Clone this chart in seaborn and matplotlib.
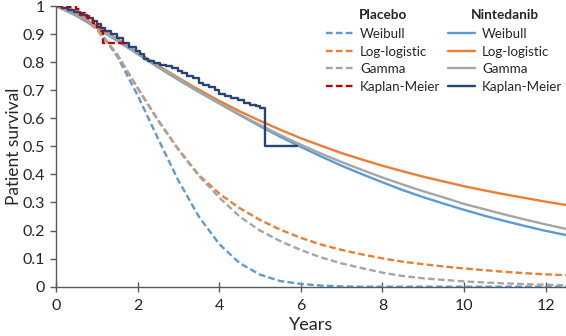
import numpy as np
import pandas as pd
import matplotlib
matplotlib.use("Agg")
import matplotlib.pyplot as plt
import seaborn as sns
from matplotlib.lines import Line2D

# ---------------- data ----------------
years = [0, 0.5, 1, 1.5, 2, 2.5, 3, 3.5, 4, 4.5, 5, 5.5, 6, 6.5, 7, 7.5, 8,
         8.5, 9, 9.5, 10, 10.5, 11, 11.5, 12, 12.5]

placebo_weibull = [1.0, 0.984, 0.925, 0.821, 0.682, 0.528, 0.378, 0.250, 0.152,
                   0.084, 0.043, 0.020, 0.010, 0.004, 0.001, 0.0, 0.0, 0.0, 0.0,
                   0.0, 0.0, 0.0, 0.0, 0.0, 0.0, 0.0]
placebo_loglogistic = [1.0, 0.980, 0.916, 0.826, 0.708, 0.594, 0.490, 0.398, 0.332,
                       0.280, 0.238, 0.203, 0.174, 0.150, 0.131, 0.115, 0.101,
                       0.089, 0.080, 0.072, 0.065, 0.059, 0.053, 0.048, 0.044, 0.041]
placebo_gamma = [1.0, 0.983, 0.920, 0.828, 0.708, 0.592, 0.488, 0.395, 0.318,
                 0.250, 0.200, 0.162, 0.131, 0.104, 0.083, 0.066, 0.050, 0.038,
                 0.030, 0.024, 0.019, 0.015, 0.012, 0.009, 0.007, 0.005]

ninte_weibull = [1.0, 0.965, 0.922, 0.876, 0.829, 0.782, 0.737, 0.694, 0.653,
                 0.612, 0.572, 0.534, 0.498, 0.464, 0.431, 0.401, 0.372, 0.344,
                 0.319, 0.296, 0.274, 0.253, 0.234, 0.216, 0.199, 0.184]
ninte_loglogistic = [1.0, 0.971, 0.929, 0.883, 0.835, 0.789, 0.744, 0.702, 0.662,
                     0.625, 0.591, 0.559, 0.529, 0.502, 0.476, 0.453, 0.431, 0.411,
                     0.392, 0.375, 0.358, 0.343, 0.329, 0.316, 0.303, 0.291]
ninte_gamma = [1.0, 0.967, 0.925, 0.879, 0.832, 0.785, 0.740, 0.696, 0.654,
               0.614, 0.576, 0.540, 0.506, 0.474, 0.444, 0.416, 0.389, 0.364,
               0.340, 0.318, 0.295, 0.276, 0.257, 0.239, 0.222, 0.206]

placebo_km_t = [0, 0.3, 0.5, 0.6, 0.7, 0.8, 0.9, 1.0, 1.08, 1.15, 1.77]
placebo_km_s = [1.0, 0.995, 0.99, 0.975, 0.965, 0.95, 0.94, 0.925, 0.91, 0.867, 0.867]

ninte_km_t = [0, 0.15, 0.3, 0.45, 0.6, 0.75, 0.9, 1.0, 1.1, 1.2, 1.35, 1.5, 1.65,
              1.8, 1.95, 2.05, 2.15, 2.25, 2.4, 2.55, 2.7, 2.85, 3.0, 3.1, 3.2,
              3.35, 3.5, 3.6, 3.75, 3.9, 4.0, 4.15, 4.3, 4.45, 4.6, 4.75, 4.9,
              5.0, 5.13, 5.9]
ninte_km_s = [1.0, 0.993, 0.985, 0.977, 0.968, 0.958, 0.945, 0.935, 0.922, 0.91,
              0.9, 0.885, 0.868, 0.855, 0.84, 0.828, 0.812, 0.805, 0.798, 0.79,
              0.785, 0.778, 0.77, 0.762, 0.752, 0.742, 0.725, 0.718, 0.71, 0.702,
              0.685, 0.678, 0.672, 0.665, 0.655, 0.648, 0.642, 0.635, 0.5, 0.5]

x_ticks = [0, 2, 4, 6, 8, 10, 12]
y_ticks = [0, 0.1, 0.2, 0.3, 0.4, 0.5, 0.6, 0.7, 0.8, 0.9, 1]
y_tick_labels = ["0", "0.1", "0.2", "0.3", "0.4", "0.5", "0.6", "0.7", "0.8", "0.9", "1"]
model_labels = ["Weibull", "Log-logistic", "Gamma", "Kaplan-Meier"]

# ---------------- style ----------------
sns.set_style("ticks")
plt.rcParams["font.family"] = ["Lato", "DejaVu Sans"]

C_BLUE = "#5B9BD5"
C_ORANGE = "#ED7D31"
C_GRAY = "#A5A5A5"
C_RED = "#C00000"
C_NAVY = "#264478"
AXC = "#595959"
TXT = "#262626"
LW = 1.7
DASH = (2.8, 1.4)

fig = plt.figure(figsize=(5.66, 3.36), dpi=100)
ax = fig.add_axes([56 / 566, 1 - 286.7 / 336, 1 - 56 / 566, (286.7 - 6) / 336])

# Nintedanib fitted (solid)
for vals, col in [(ninte_weibull, C_BLUE), (ninte_loglogistic, C_ORANGE), (ninte_gamma, C_GRAY)]:
    sns.lineplot(x=years, y=vals, ax=ax, color=col, lw=LW, sort=False,
                 estimator=None, solid_capstyle="butt")
# Placebo fitted (dashed)
for vals, col in [(placebo_weibull, C_BLUE), (placebo_loglogistic, C_ORANGE), (placebo_gamma, C_GRAY)]:
    sns.lineplot(x=years, y=vals, ax=ax, color=col, lw=LW, sort=False,
                 estimator=None, linestyle=(0, DASH))
# KM
sns.lineplot(x=ninte_km_t, y=ninte_km_s, ax=ax, color=C_NAVY, lw=LW, sort=False,
             estimator=None, drawstyle="steps-post")
sns.lineplot(x=placebo_km_t, y=placebo_km_s, ax=ax, color=C_RED, lw=LW, sort=False,
             estimator=None, drawstyle="steps-post", linestyle=(0, DASH))

ax.set_xlim(0, 12.5)
ax.set_ylim(0, 1)
ax.set_xticks(x_ticks)
ax.set_yticks(y_ticks)
ax.set_yticklabels(y_tick_labels)
ax.tick_params(axis="x", direction="inout", length=7, width=1, color=AXC,
               labelsize=11.5, labelcolor=TXT, pad=5)
ax.tick_params(axis="y", direction="out", length=4, width=1, color=AXC,
               labelsize=11.5, labelcolor=TXT, pad=4)
for s in ["top", "right"]:
    ax.spines[s].set_visible(False)
for s in ["left", "bottom"]:
    ax.spines[s].set_color(AXC)
    ax.spines[s].set_linewidth(1)
ax.set_xlabel("Years", fontsize=13, color=TXT, labelpad=3)
ax.set_ylabel("Patient survival", fontsize=12.5, color=TXT)
ax.yaxis.set_label_coords(-0.066, 0.5)

# Legends
cols = [C_BLUE, C_ORANGE, C_GRAY]
ph = [Line2D([], [], color=c, lw=LW, linestyle=(0, DASH)) for c in cols] + \
     [Line2D([], [], color=C_RED, lw=LW, linestyle=(0, DASH))]
nh = [Line2D([], [], color=c, lw=LW) for c in cols] + [Line2D([], [], color=C_NAVY, lw=LW)]

common = dict(frameon=False, fontsize=9.6, handlelength=2.0, handletextpad=0.55,
              labelspacing=0.42, borderpad=0, borderaxespad=0,
              title_fontproperties={"weight": "bold", "size": 9.8})
leg1 = fig.legend(ph, model_labels, title="Placebo", loc="upper left",
                  bbox_to_anchor=(326 / 566, 1 - 9 / 336), **common)
leg2 = fig.legend(nh, model_labels, title="Nintedanib", loc="upper left",
                  bbox_to_anchor=(448 / 566, 1 - 9 / 336), **common)
for lg in (leg1, leg2):
    for t in lg.get_texts():
        t.set_color(TXT)
    lg.get_title().set_color(TXT)
    lg._legend_box.sep = 5

fig.savefig("out.png", dpi=100)
